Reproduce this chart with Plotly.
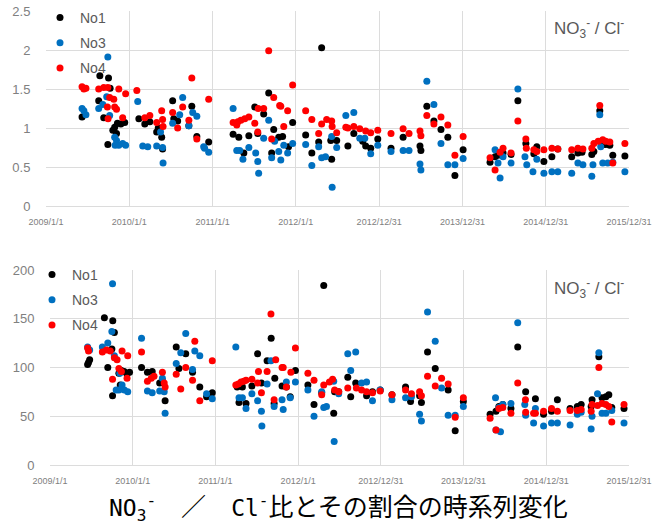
import plotly.graph_objects as go

# ---------------- data ----------------
TICK_DATES = ["2009-01-01", "2010-01-01", "2011-01-01", "2012-01-01",
              "2012-12-31", "2013-12-31", "2014-12-31", "2015-12-31"]
TICK_TEXT = ["2009/1/1", "2010/1/1", "2011/1/1", "2012/1/1",
             "2012/12/31", "2013/12/31", "2014/12/31", "2015/12/31"]
SERIES = ["No1", "No3", "No4"]
COLORS = ["#000000", "#0070C0", "#FF0000"]

# Top panel: NO3- / Cl- ratio
TOP_NO1 = [("2009-06-08", 1.14), ("2009-08-20", 1.35), ("2009-08-25", 1.67), ("2009-09-11", 1.13),
           ("2009-09-29", 0.79), ("2009-10-02", 1.64), ("2009-10-09", 1.51), ("2009-10-21", 0.97),
           ("2009-10-29", 1.01), ("2009-11-06", 0.93), ("2009-11-10", 1.06), ("2009-11-25", 1.05),
           ("2009-12-12", 1.07), ("2010-02-12", 1.12), ("2010-03-10", 1.05), ("2010-04-01", 1.08),
           ("2010-05-01", 0.95), ("2010-05-08", 1.00), ("2010-05-23", 0.88), ("2010-05-27", 0.73),
           ("2010-07-10", 1.35), ("2010-07-15", 1.12), ("2010-08-01", 1.09), ("2010-09-19", 1.03),
           ("2010-10-02", 1.28), ("2010-10-24", 0.89), ("2010-12-15", 0.82), ("2011-04-01", 0.92),
           ("2011-04-26", 0.88), ("2011-05-18", 0.68), ("2011-06-09", 0.90), ("2011-07-05", 1.27),
           ("2011-07-18", 0.93), ("2011-08-13", 1.18), ("2011-09-04", 1.45), ("2011-09-17", 0.68),
           ("2011-09-26", 0.98), ("2011-10-18", 0.88), ("2011-11-04", 0.89), ("2011-11-30", 0.76),
           ("2011-12-18", 1.07), ("2012-02-13", 0.91), ("2012-03-11", 0.68), ("2012-04-10", 0.82),
           ("2012-04-23", 2.03), ("2012-06-02", 0.84), ("2012-06-06", 0.60), ("2012-06-28", 0.84),
           ("2012-08-16", 0.77), ("2012-09-11", 0.93), ("2012-10-20", 0.83), ("2012-11-02", 0.77),
           ("2012-11-24", 0.74), ("2012-12-25", 0.86), ("2013-02-21", 0.74), ("2013-04-15", 0.88),
           ("2013-06-28", 0.77), ("2013-07-02", 0.71), ("2013-07-28", 1.28), ("2013-08-28", 1.09),
           ("2013-09-28", 0.98), ("2013-10-28", 0.88), ("2013-11-28", 0.39), ("2014-01-03", 0.72),
           ("2014-05-01", 0.56), ("2014-05-23", 0.63), ("2014-06-05", 0.65), ("2014-06-14", 0.66),
           ("2014-06-27", 0.68), ("2014-08-01", 0.66), ("2014-08-31", 1.35), ("2014-10-05", 0.80),
           ("2014-11-09", 0.67), ("2014-11-22", 0.76), ("2014-12-23", 0.57), ("2015-01-27", 0.63),
           ("2015-02-22", 0.73), ("2015-04-24", 0.63), ("2015-05-21", 0.68), ("2015-06-08", 0.69),
           ("2015-07-21", 0.66), ("2015-07-30", 0.70), ("2015-08-25", 1.22), ("2015-09-07", 0.79),
           ("2015-09-20", 0.79), ("2015-10-08", 0.78), ("2015-10-21", 0.65), ("2015-12-13", 0.64)]

TOP_NO3 = [("2009-06-08", 1.25), ("2009-06-16", 1.22), ("2009-06-25", 1.17), ("2009-08-20", 1.25),
           ("2009-09-07", 1.30), ("2009-09-24", 1.40), ("2009-09-29", 1.91), ("2009-10-07", 1.16),
           ("2009-10-29", 0.88), ("2009-10-31", 0.78), ("2009-11-06", 0.84), ("2009-11-16", 0.78),
           ("2009-12-03", 0.80), ("2009-12-16", 0.78), ("2010-02-07", 1.34), ("2010-03-01", 0.77),
           ("2010-03-23", 0.76), ("2010-05-01", 0.77), ("2010-05-18", 0.95), ("2010-05-27", 0.75),
           ("2010-05-29", 0.55), ("2010-07-10", 1.06), ("2010-08-10", 1.17), ("2010-08-23", 1.39),
           ("2010-09-19", 1.03), ("2010-10-06", 1.20), ("2010-10-24", 1.15), ("2010-11-23", 0.76),
           ("2010-11-27", 0.74), ("2010-12-15", 0.69), ("2011-04-01", 1.25), ("2011-04-17", 0.71),
           ("2011-04-30", 0.71), ("2011-05-14", 0.60), ("2011-06-09", 0.75), ("2011-07-09", 0.68),
           ("2011-07-18", 0.57), ("2011-07-22", 0.42), ("2011-08-13", 0.87), ("2011-09-04", 1.10),
           ("2011-09-17", 0.62), ("2011-09-30", 0.83), ("2011-10-18", 0.70), ("2011-10-27", 0.59),
           ("2011-11-09", 0.78), ("2011-11-26", 0.68), ("2011-12-18", 0.80), ("2012-02-13", 0.79),
           ("2012-03-11", 0.52), ("2012-04-10", 0.76), ("2012-04-23", 0.62), ("2012-05-10", 0.63),
           ("2012-06-06", 0.89), ("2012-06-08", 0.24), ("2012-06-28", 0.75), ("2012-08-07", 1.16),
           ("2012-09-11", 1.20), ("2012-10-07", 0.87), ("2012-10-29", 0.87), ("2012-11-24", 0.67),
           ("2012-12-25", 0.78), ("2013-02-21", 0.70), ("2013-04-15", 0.71), ("2013-05-11", 0.71),
           ("2013-06-28", 0.54), ("2013-07-02", 0.46), ("2013-07-28", 1.60), ("2013-08-28", 1.30),
           ("2013-09-28", 0.80), ("2013-10-28", 0.53), ("2013-11-28", 0.53), ("2014-01-03", 0.61),
           ("2014-05-23", 0.72), ("2014-06-05", 0.55), ("2014-06-14", 0.36), ("2014-06-27", 0.63),
           ("2014-08-01", 0.55), ("2014-08-31", 1.50), ("2014-10-01", 0.63), ("2014-10-09", 0.53),
           ("2014-11-05", 0.44), ("2014-11-22", 0.60), ("2014-12-23", 0.42), ("2015-01-27", 0.44),
           ("2015-02-22", 0.44), ("2015-04-24", 0.42), ("2015-05-21", 0.55), ("2015-06-12", 0.53),
           ("2015-07-21", 0.38), ("2015-07-26", 0.53), ("2015-08-25", 1.17), ("2015-08-29", 0.76),
           ("2015-09-07", 0.55), ("2015-09-29", 0.55), ("2015-10-21", 0.56), ("2015-12-13", 0.44)]

TOP_NO4 = [("2009-06-08", 1.53), ("2009-06-16", 1.50), ("2009-06-25", 1.51), ("2009-08-20", 1.50),
           ("2009-09-11", 1.52), ("2009-09-27", 1.27), ("2009-09-29", 1.52), ("2009-09-30", 1.12),
           ("2009-10-07", 1.39), ("2009-10-25", 1.37), ("2009-10-29", 1.27), ("2009-11-06", 1.24),
           ("2009-11-16", 1.50), ("2009-12-03", 1.13), ("2009-12-16", 1.44), ("2010-02-03", 1.48),
           ("2010-03-10", 1.13), ("2010-04-01", 1.16), ("2010-05-01", 1.07), ("2010-05-23", 1.22),
           ("2010-05-27", 1.11), ("2010-05-29", 1.02), ("2010-07-10", 1.20), ("2010-08-01", 1.00),
           ("2010-08-23", 1.27), ("2010-09-19", 1.10), ("2010-10-02", 1.64), ("2010-10-24", 0.86),
           ("2010-12-15", 1.37), ("2011-04-01", 1.07), ("2011-04-17", 1.04), ("2011-04-22", 1.08),
           ("2011-05-05", 1.10), ("2011-05-22", 1.12), ("2011-06-09", 1.14), ("2011-07-05", 1.06),
           ("2011-07-18", 0.95), ("2011-07-20", 1.25), ("2011-08-13", 1.25), ("2011-09-04", 1.99),
           ("2011-09-17", 0.86), ("2011-09-26", 1.39), ("2011-10-22", 1.29), ("2011-10-27", 1.28),
           ("2011-11-09", 1.02), ("2011-11-26", 1.22), ("2011-12-18", 1.55), ("2012-02-13", 1.22),
           ("2012-03-11", 1.11), ("2012-04-10", 0.93), ("2012-04-23", 1.05), ("2012-05-15", 1.11),
           ("2012-06-06", 1.09), ("2012-06-08", 1.02), ("2012-06-28", 0.94), ("2012-08-07", 1.01),
           ("2012-08-16", 1.00), ("2012-09-11", 1.02), ("2012-10-07", 0.99), ("2012-11-02", 0.96),
           ("2012-11-24", 0.94), ("2012-12-25", 0.97), ("2013-02-21", 0.93), ("2013-04-15", 0.99),
           ("2013-05-11", 0.93), ("2013-06-28", 0.96), ("2013-07-02", 0.90), ("2013-07-28", 1.16),
           ("2013-08-28", 1.05), ("2013-09-28", 1.14), ("2013-10-28", 1.04), ("2013-11-28", 0.65),
           ("2014-01-03", 0.89), ("2014-05-01", 0.62), ("2014-05-23", 0.46), ("2014-06-14", 0.69),
           ("2014-06-27", 0.74), ("2014-08-01", 0.68), ("2014-08-31", 1.09), ("2014-10-05", 0.86),
           ("2014-10-07", 0.74), ("2014-11-09", 0.72), ("2014-11-22", 0.70), ("2014-12-23", 0.72),
           ("2015-01-27", 0.74), ("2015-02-22", 0.73), ("2015-04-24", 0.72), ("2015-05-21", 0.74),
           ("2015-06-12", 0.73), ("2015-07-21", 0.74), ("2015-07-30", 0.80), ("2015-08-18", 0.83),
           ("2015-08-25", 1.29), ("2015-09-07", 0.85), ("2015-09-20", 0.83), ("2015-10-08", 0.82),
           ("2015-10-21", 0.55), ("2015-12-13", 0.80)]

# Bottom panel: ratio expressed on a 0-200 scale
BOT_NO1 = [("2009-06-16", 103), ("2009-06-20", 105), ("2009-06-25", 108), ("2009-08-29", 151),
           ("2009-09-13", 100), ("2009-10-01", 119), ("2009-10-04", 71), ("2009-10-05", 148),
           ("2009-10-12", 136), ("2009-11-01", 94), ("2009-11-07", 82), ("2009-11-12", 97),
           ("2009-11-24", 96), ("2009-12-07", 93), ("2009-12-18", 95), ("2010-02-09", 100),
           ("2010-03-07", 95), ("2010-03-28", 96), ("2010-04-30", 84), ("2010-05-12", 86),
           ("2010-05-24", 66), ("2010-07-12", 121), ("2010-07-24", 99), ("2010-08-23", 114),
           ("2010-09-22", 95), ("2010-10-24", 80), ("2010-11-23", 70), ("2010-12-18", 74),
           ("2011-04-07", 80), ("2011-04-15", 64), ("2011-04-30", 80), ("2011-05-16", 63),
           ("2011-06-11", 81), ("2011-07-06", 114), ("2011-07-23", 84), ("2011-08-17", 107),
           ("2011-09-04", 130), ("2011-09-17", 63), ("2011-09-20", 89), ("2011-10-22", 81),
           ("2011-11-10", 80), ("2011-11-27", 70), ("2011-12-20", 97), ("2012-02-13", 82),
           ("2012-03-11", 62), ("2012-04-14", 74), ("2012-04-23", 184), ("2012-06-06", 53),
           ("2012-06-10", 75), ("2012-06-28", 75), ("2012-08-07", 90), ("2012-08-20", 70),
           ("2012-09-11", 84), ("2012-10-29", 71), ("2012-11-24", 75), ("2012-12-28", 77),
           ("2013-02-18", 72), ("2013-04-19", 80), ("2013-05-11", 65), ("2013-06-20", 71),
           ("2013-06-28", 64), ("2013-07-25", 116), ("2013-08-28", 99), ("2013-10-24", 77),
           ("2013-11-24", 35), ("2013-12-30", 65), ("2014-04-27", 52), ("2014-05-23", 55),
           ("2014-06-05", 60), ("2014-06-22", 62), ("2014-07-28", 58), ("2014-08-27", 121),
           ("2014-10-01", 75), ("2014-11-13", 68), ("2014-12-19", 52), ("2015-01-23", 55),
           ("2015-02-18", 67), ("2015-04-15", 58), ("2015-05-17", 60), ("2015-06-03", 62),
           ("2015-07-17", 60), ("2015-07-21", 67), ("2015-08-20", 111), ("2015-09-03", 69),
           ("2015-09-20", 70), ("2015-10-03", 72), ("2015-10-16", 59), ("2015-12-09", 58)]

BOT_NO3 = [("2009-06-16", 121), ("2009-06-25", 118), ("2009-08-20", 121), ("2009-09-13", 125),
           ("2009-10-01", 137), ("2009-10-04", 186), ("2009-10-12", 112), ("2009-10-20", 77),
           ("2009-11-01", 77), ("2009-11-05", 94), ("2009-11-15", 82), ("2009-11-25", 77),
           ("2009-12-10", 75), ("2010-02-09", 130), ("2010-03-07", 76), ("2010-03-28", 74),
           ("2010-04-30", 76), ("2010-05-12", 89), ("2010-05-20", 75), ("2010-05-24", 53),
           ("2010-07-12", 104), ("2010-08-01", 115), ("2010-08-23", 135), ("2010-09-22", 98),
           ("2010-10-02", 117), ("2010-10-24", 112), ("2010-11-23", 73), ("2010-12-18", 68),
           ("2011-04-01", 121), ("2011-04-15", 69), ("2011-04-30", 69), ("2011-05-16", 58),
           ("2011-06-11", 73), ("2011-07-06", 66), ("2011-07-23", 55), ("2011-07-25", 40),
           ("2011-08-17", 83), ("2011-09-03", 107), ("2011-09-17", 60), ("2011-10-22", 67),
           ("2011-10-27", 57), ("2011-11-10", 85), ("2011-11-27", 69), ("2011-12-20", 85),
           ("2012-02-13", 77), ("2012-03-11", 50), ("2012-04-14", 75), ("2012-04-23", 59),
           ("2012-05-05", 60), ("2012-06-06", 86), ("2012-06-08", 24), ("2012-06-28", 73),
           ("2012-08-07", 114), ("2012-08-20", 97), ("2012-09-11", 116), ("2012-10-07", 84),
           ("2012-10-29", 85), ("2012-11-24", 66), ("2012-12-28", 77), ("2013-02-18", 67),
           ("2013-04-19", 69), ("2013-05-15", 70), ("2013-06-20", 52), ("2013-06-28", 45),
           ("2013-07-25", 157), ("2013-08-28", 127), ("2013-09-25", 79), ("2013-10-24", 51),
           ("2013-11-24", 51), ("2013-12-30", 60), ("2014-05-21", 69), ("2014-05-23", 36),
           ("2014-06-05", 59), ("2014-06-12", 34), ("2014-06-22", 62), ("2014-07-28", 63),
           ("2014-08-27", 146), ("2014-09-27", 62), ("2014-10-01", 51), ("2014-11-05", 43),
           ("2014-11-13", 58), ("2014-12-19", 40), ("2015-01-23", 43), ("2015-02-18", 43),
           ("2015-04-15", 41), ("2015-05-17", 52), ("2015-06-03", 54), ("2015-07-17", 37),
           ("2015-07-21", 50), ("2015-08-14", 73), ("2015-08-20", 115), ("2015-09-03", 53),
           ("2015-09-20", 53), ("2015-10-16", 56), ("2015-12-09", 43)]

BOT_NO4 = [("2009-06-16", 120), ("2009-06-20", 117), ("2009-08-20", 116), ("2009-09-07", 118),
           ("2009-09-24", 117), ("2009-10-04", 88), ("2009-10-12", 110), ("2009-10-24", 108),
           ("2009-11-01", 99), ("2009-11-12", 96), ("2009-11-15", 117), ("2009-12-07", 89),
           ("2009-12-10", 112), ("2010-02-09", 116), ("2010-03-07", 86), ("2010-03-24", 89),
           ("2010-04-05", 91), ("2010-05-12", 95), ("2010-05-20", 84), ("2010-05-24", 80),
           ("2010-07-12", 93), ("2010-08-01", 78), ("2010-08-23", 100), ("2010-09-22", 87),
           ("2010-10-02", 127), ("2010-10-24", 66), ("2010-12-18", 107), ("2011-04-01", 82),
           ("2011-04-12", 83), ("2011-04-24", 85), ("2011-05-06", 86), ("2011-05-16", 87),
           ("2011-06-11", 88), ("2011-07-06", 84), ("2011-07-10", 96), ("2011-07-23", 74),
           ("2011-08-17", 96), ("2011-09-03", 155), ("2011-09-17", 67), ("2011-09-24", 108),
           ("2011-10-22", 100), ("2011-10-27", 100), ("2011-11-10", 80), ("2011-11-30", 95),
           ("2011-12-20", 120), ("2012-02-13", 94), ("2012-03-11", 87), ("2012-04-14", 72),
           ("2012-04-23", 82), ("2012-05-18", 85), ("2012-06-01", 88), ("2012-06-10", 77),
           ("2012-06-28", 75), ("2012-08-07", 79), ("2012-09-14", 79), ("2012-10-07", 77),
           ("2012-10-29", 75), ("2012-11-24", 74), ("2012-12-28", 76), ("2013-02-18", 72),
           ("2013-04-19", 77), ("2013-05-15", 73), ("2013-06-20", 75), ("2013-06-28", 71),
           ("2013-07-25", 91), ("2013-08-28", 81), ("2013-09-25", 89), ("2013-10-24", 83),
           ("2013-11-24", 49), ("2013-12-30", 69), ("2014-04-27", 48), ("2014-05-23", 36),
           ("2014-06-05", 58), ("2014-06-22", 59), ("2014-07-28", 53), ("2014-08-27", 84),
           ("2014-09-30", 67), ("2014-10-01", 54), ("2014-11-05", 53), ("2014-11-13", 53),
           ("2014-12-19", 55), ("2015-01-23", 58), ("2015-02-18", 55), ("2015-04-15", 56),
           ("2015-05-17", 56), ("2015-06-03", 57), ("2015-07-17", 55), ("2015-07-21", 62),
           ("2015-08-14", 61), ("2015-08-20", 100), ("2015-09-03", 63), ("2015-09-20", 62),
           ("2015-10-03", 60), ("2015-10-16", 44), ("2015-12-09", 62)]

TOP_DATA = [TOP_NO1, TOP_NO3, TOP_NO4]
BOT_DATA = [BOT_NO1, BOT_NO3, BOT_NO4]

# ---------------- figure ----------------
W, H = 669, 532
GRID = "#dcdcdc"
TICKC = "#808080"
TEXTC = "#595959"

fig = go.Figure()

for name, color, pts in zip(SERIES, COLORS, TOP_DATA):
    fig.add_trace(go.Scatter(
        x=[p[0] for p in pts], y=[p[1] for p in pts], mode="markers", name=name,
        marker=dict(color=color, size=7), xaxis="x", yaxis="y",
        legend="legend", legendgroup="t" + name))

for name, color, pts in zip(SERIES, COLORS, BOT_DATA):
    fig.add_trace(go.Scatter(
        x=[p[0] for p in pts], y=[p[1] for p in pts], mode="markers", name=name,
        marker=dict(color=color, size=7), xaxis="x2", yaxis="y2",
        legend="legend2", legendgroup="b" + name))

def xaxis(dom, anchor):
    return dict(domain=dom, anchor=anchor, type="date",
                range=["2009-01-01", "2015-12-31"],
                tickmode="array", tickvals=TICK_DATES, ticktext=TICK_TEXT,
                showgrid=True, gridcolor=GRID, gridwidth=1,
                showline=True, linecolor=GRID, linewidth=1,
                ticks="outside", ticklen=7, tickcolor="rgba(0,0,0,0)",
                tickfont=dict(family="Liberation Sans, Arial, sans-serif", size=9, color=TICKC),
                tickangle=0, zeroline=False, fixedrange=True, automargin=False)

def yaxis(dom, anchor, rng, dt):
    return dict(domain=dom, anchor=anchor, range=rng, dtick=dt, tick0=0,
                showgrid=True, gridcolor=GRID, gridwidth=1, zeroline=False,
                showline=False, ticks="outside", ticklen=12, tickcolor="rgba(0,0,0,0)",
                tickfont=dict(family="Liberation Sans, Arial, sans-serif", size=13, color=TICKC),
                fixedrange=True, automargin=False)

LEGFONT = dict(family="Liberation Sans, Arial, sans-serif", size=14, color=TEXTC)

fig.update_layout(
    width=W, height=H, margin=dict(l=0, r=0, t=0, b=0, autoexpand=False),
    paper_bgcolor="white", plot_bgcolor="white",
    xaxis=xaxis([46 / W, 629 / W], "y"),
    yaxis=yaxis([(H - 206) / H, (H - 11) / H], "x", [0, 2.5], 0.5),
    xaxis2=xaxis([50 / W, 629 / W], "y2"),
    yaxis2=yaxis([(H - 465) / H, (H - 270) / H], "x2", [0, 200], 50),
    legend=dict(x=40 / W, xanchor="left", y=(H - 2) / H, yanchor="top",
                bgcolor="rgba(0,0,0,0)", tracegroupgap=4, font=LEGFONT),
    legend2=dict(x=32 / W, xanchor="left", y=(H - 259) / H, yanchor="top",
                 bgcolor="rgba(0,0,0,0)", tracegroupgap=4, font=LEGFONT),
    showlegend=True,
)

label = "NO<sub>3</sub><sup>-</sup> / Cl<sup>-</sup>"
for ypos in ((H - 28) / H, (H - 288) / H):
    fig.add_annotation(text=label, x=626 / W, y=ypos, xref="paper", yref="paper",
                       xanchor="right", yanchor="middle", showarrow=False,
                       font=dict(family="Liberation Sans, Arial, sans-serif", size=17, color=TEXTC))

MONO = "font-family:'DejaVu Sans Mono';font-size:23px"
fig.add_annotation(
    text=(f"<span style=\"{MONO}\">NO<sub>3</sub><sup>-</sup></span>　／　"
          f"<span style=\"{MONO}\">Cl<sup>-</sup></span>比とその割合の時系列変化"),
    x=338 / W, y=(H - 506) / H, xref="paper", yref="paper",
    xanchor="center", yanchor="middle", showarrow=False,
    font=dict(family="Noto Sans CJK JP, sans-serif", size=25, color="#000000"))

fig.write_html("out.html")
